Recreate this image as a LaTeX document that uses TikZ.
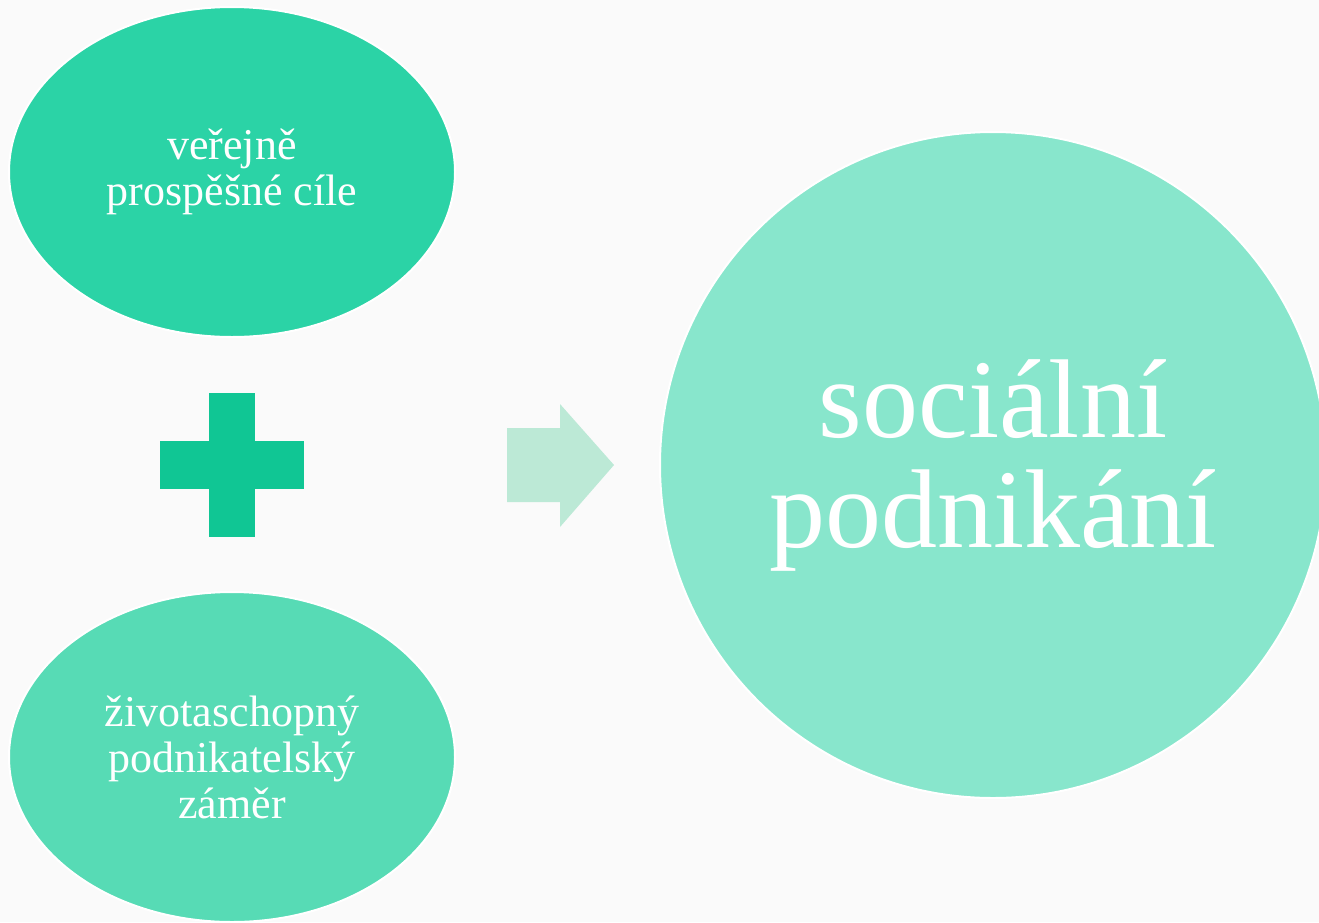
\documentclass[tikz,border=0pt]{standalone}
\usepackage{fontspec}
\setmainfont{Liberation Serif}
\usetikzlibrary{shapes.geometric}
\definecolor{bgc}{HTML}{FAFAFA}
\definecolor{topc}{HTML}{2BD3A6}
\definecolor{botc}{HTML}{57DBB5}
\definecolor{plusc}{HTML}{10C694}
\definecolor{arrc}{HTML}{BCE9D6}
\definecolor{bigc}{HTML}{88E6CC}
\tikzset{
  blob/.style={ellipse, draw=white, line width=2pt, inner sep=0pt, text=white, align=center},
  smalltxt/.style={font=\fontsize{44}{46}\selectfont},
  bigtxt/.style={font=\fontsize{112}{110}\selectfont},
}
\begin{document}
\begin{tikzpicture}[x=1pt,y=-1pt]
\fill[bgc] (0,0) rectangle (1319,922);
\useasboundingbox (0,0) rectangle (1319,922);
\node[blob, fill=topc, minimum width=446pt, minimum height=330pt, smalltxt] (top) at (232,172) {veřejně\\prospěšné cíle};
\node[blob, fill=botc, minimum width=446pt, minimum height=330pt, smalltxt] (bot) at (232,757) {životaschopný\\podnikatelský\\záměr};
\node[blob, fill=bigc, minimum width=666pt, minimum height=666pt, bigtxt] (big) at (993,465) {sociální\\podnikání};
% plus sign
\fill[plusc] (209,393) rectangle (255,537);
\fill[plusc] (160,441) rectangle (304,489);
\node[inner sep=0pt] (plus) at (232,465) {};
% arrow
\fill[arrc] (507,428) -- (560,428) -- (560,404) -- (614,465) -- (560,527) -- (560,502) -- (507,502) -- cycle;
\end{tikzpicture}
\end{document}
